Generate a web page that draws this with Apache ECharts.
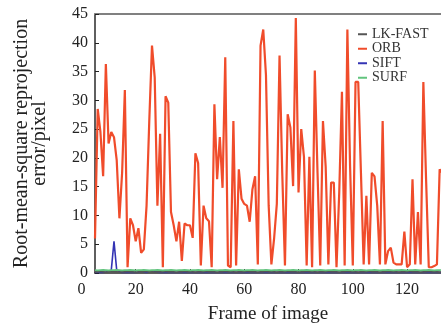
<!DOCTYPE html>
<html><head><meta charset="utf-8">
<script src="https://cdn.jsdelivr.net/npm/echarts@6/dist/echarts.min.js"></script>
<style>html,body{margin:0;padding:0;background:#fff}#c{width:441px;height:329px}</style>
</head><body><div id="c"></div>
<script>
// Frames 5..133
const firstFrame = 5;
const orb = [
  6, 28.5, 24.5, 16.8, 36.3, 22.5, 24.5, 23.6, 19.6, 9.5,
  17.5, 31.8, 1, 9.5, 8.3, 5.5, 7.8, 3.5, 4.1, 11.7,
  26.4, 39.5, 34, 11.7, 24.2, 1, 30.7, 29.6, 10.6, 8.3,
  5.5, 8.9, 2.1, 8.6, 8.3, 8.3, 6.1, 20.8, 19.1, 1.3,
  11.7, 9.5, 9, 1, 29.3, 16.3, 23.6, 14.8, 37.5, 1.3,
  1, 26.4, 1.3, 18, 12.9, 12, 11.7, 8.9, 14.5, 16.8,
  1.5, 39.5, 42.3, 34.4, 11.7, 1.5, 6, 12, 37.8, 17.4,
  1.3, 27.6, 25.3, 15.1, 44.3, 14, 25, 20.2, 1.3, 20.2,
  1, 35.2, 17.4, 1.3, 26.4, 18.5, 1.5, 15.7, 15.7, 1,
  14, 31.5, 1.3, 42.3, 18.5, 1.3, 33.2, 33.2, 17.4, 1.5,
  13.4, 1.5, 17.4, 16.8, 11.7, 1.5, 26.4, 1.5, 3.8, 4.4,
  1.8, 1.5, 1.5, 1.5, 7.2, 1, 1.5, 16.3, 1.5, 10.6,
  1.5, 33.2, 16.3, 1, 1, 1.2, 1.5, 18, 17.4
];
const lkfast = [
  0.2, 0.2, 0.25, 0.2, 0.15, 0.2, 0.25, 0.2, 0.2, 0.15,
  0.2, 0.2, 0.25, 0.2, 0.2, 0.15, 0.2, 0.2, 0.2, 0.25,
  0.2, 0.2, 0.15, 0.2, 0.2, 0.2, 0.25, 0.2, 0.2, 0.2,
  0.15, 0.2, 0.2, 0.25, 0.2, 0.2, 0.2, 0.15, 0.2, 0.2,
  0.2, 0.25, 0.2, 0.2, 0.2, 0.15, 0.2, 0.2, 0.25, 0.2,
  0.2, 0.2, 0.15, 0.2, 0.2, 0.2, 0.25, 0.2, 0.2, 0.2,
  0.15, 0.2, 0.2, 0.25, 0.2, 0.2, 0.2, 0.15, 0.2, 0.2,
  0.2, 0.25, 0.2, 0.2, 0.2, 0.15, 0.2, 0.2, 0.25, 0.2,
  0.2, 0.2, 0.15, 0.2, 0.2, 0.2, 0.25, 0.2, 0.2, 0.2,
  0.15, 0.2, 0.2, 0.25, 0.2, 0.2, 0.2, 0.15, 0.2, 0.2,
  0.2, 0.25, 0.2, 0.2, 0.2, 0.15, 0.2, 0.2, 0.25, 0.2,
  0.2, 0.2, 0.15, 0.2, 0.2, 0.2, 0.25, 0.2, 0.2, 0.2,
  0.15, 0.2, 0.2, 0.25, 0.2, 0.2, 0.2, 0.15, 0.2
];
const sift = [
  0.1, 0.1, 0.1, 0.1, 0.15, 0.3, 0.5, 5.5, 0.5, 0.2,
  0.1, 0.1, 0.1, 0.1, 0.1, 0.1, 0.15, 0.3, 0.2, 0.1,
  0.3, 0.4, 0.3, 0.15, 0.1, 0.1, 0.1, 0.1, 0.1, 0.1,
  0.1, 0.1, 0.1, 0.1, 0.1, 0.1, 0.1, 0.1, 0.1, 0.1,
  0.1, 0.1, 0.1, 0.1, 0.1, 0.1, 0.1, 0.1, 0.1, 0.1,
  0.1, 0.1, 0.1, 0.1, 0.1, 0.1, 0.1, 0.1, 0.1, 0.1,
  0.1, 0.1, 0.1, 0.1, 0.1, 0.1, 0.1, 0.1, 0.1, 0.1,
  0.1, 0.1, 0.1, 0.1, 0.1, 0.1, 0.1, 0.1, 0.1, 0.1,
  0.1, 0.1, 0.1, 0.1, 0.1, 0.1, 0.1, 0.1, 0.1, 0.1,
  0.1, 0.1, 0.1, 0.1, 0.1, 0.1, 0.1, 0.1, 0.1, 0.1,
  0.1, 0.1, 0.1, 0.1, 0.1, 0.1, 0.1, 0.1, 0.1, 0.1,
  0.1, 0.1, 0.1, 0.1, 0.1, 0.1, 0.1, 0.1, 0.1, 0.1,
  0.1, 0.1, 0.1, 0.1, 0.1, 0.1, 0.1, 0.1, 0.1
];
const surf = [
  0.5, 0.45, 0.5, 0.55, 0.5, 0.45, 0.5, 0.5, 0.55, 0.5,
  0.45, 0.5, 0.5, 0.55, 0.5, 0.45, 0.5, 0.5, 0.55, 0.5,
  0.45, 0.5, 0.5, 0.55, 0.5, 0.45, 0.5, 0.5, 0.55, 0.5,
  0.45, 0.5, 0.5, 0.55, 0.5, 0.45, 0.5, 0.5, 0.55, 0.5,
  0.45, 0.5, 0.5, 0.55, 0.5, 0.45, 0.5, 0.5, 0.55, 0.5,
  0.45, 0.5, 0.5, 0.55, 0.5, 0.45, 0.5, 0.5, 0.55, 0.5,
  0.45, 0.5, 0.5, 0.55, 0.5, 0.45, 0.5, 0.5, 0.55, 0.5,
  0.45, 0.5, 0.5, 0.55, 0.5, 0.45, 0.5, 0.5, 0.55, 0.5,
  0.45, 0.5, 0.5, 0.55, 0.5, 0.45, 0.5, 0.5, 0.55, 0.5,
  0.45, 0.5, 0.5, 0.55, 0.5, 0.45, 0.5, 0.5, 0.55, 0.5,
  0.45, 0.5, 0.5, 0.55, 0.5, 0.45, 0.5, 0.5, 0.55, 0.5,
  0.45, 0.5, 0.5, 0.55, 0.5, 0.45, 0.5, 0.5, 0.55, 0.5,
  0.45, 0.5, 0.5, 0.55, 0.5, 0.45, 0.5, 0.5, 0.55
];
const xTicks = [20, 40, 60, 80, 100, 120];
const xZeroLabel = 0;
const yTicks = [0, 5, 10, 15, 20, 25, 30, 35, 40, 45];
const seriesNames = ['LK-FAST', 'ORB', 'SIFT', 'SURF'];
const seriesColors = ['#555555', '#F04C2B', '#3434B4', '#62C47E'];
const seriesZ = [3, 4, 2, 5];
const xName = 'Frame of image';
const yName = 'Root-mean-square reprojection\nerror/pixel';

const FONT = "'Liberation Serif', 'Times New Roman', serif";
const pairs = arr => arr.map((v, i) => [firstFrame + i, v]);
const allData = [lkfast, orb, sift, surf];

const chart = echarts.init(document.getElementById('c'), null, {renderer: 'canvas'});
const option = {
  animation: false,
  backgroundColor: '#fff',
  grid: {left: 95, right: 0, top: 14, bottom: 50},
  legend: {
    orient: 'vertical', left: 353, top: 22,
    itemWidth: 9, itemHeight: 2, itemGap: 0,
    icon: 'rect',
    data: seriesNames,
    textStyle: {fontFamily: FONT, fontSize: 14, color: '#333', lineHeight: 14.5}
  },
  xAxis: [{
    type: 'value', min: firstFrame, max: 132.5,
    name: xName, nameLocation: 'middle', nameGap: 32,
    nameTextStyle: {fontFamily: FONT, fontSize: 19, color: '#222'},
    axisLine: {lineStyle: {color: '#2a2a2a', width: 1.5}},
    axisTick: {inside: true, length: 4, customValues: xTicks, lineStyle: {color: '#222'}},
    axisLabel: {customValues: xTicks, margin: 9, fontFamily: FONT, fontSize: 16, color: '#222'},
    splitLine: {show: false}
  }, {
    type: 'value', position: 'top', min: firstFrame, max: 132.5,
    axisLine: {lineStyle: {color: '#808080', width: 2}},
    axisTick: {show: false}, axisLabel: {show: false}, splitLine: {show: false}
  }],
  yAxis: {
    type: 'value', min: 0, max: 45, interval: 5,
    name: yName, nameLocation: 'middle', nameGap: 46, nameRotate: 90,
    nameTextStyle: {fontFamily: FONT, fontSize: 20, color: '#222', lineHeight: 18, align: 'center'},
    axisLine: {show: true, lineStyle: {color: '#2a2a2a', width: 1.5}},
    axisTick: {show: true, inside: true, length: 4, lineStyle: {color: '#222'}},
    axisLabel: {margin: 7, fontFamily: FONT, fontSize: 16, color: '#222',
      formatter: v => yTicks.indexOf(v) >= 0 ? String(v) : ''},
    splitLine: {show: false}
  },
  series: seriesNames.map((n, i) => ({
    name: n, type: 'line', xAxisIndex: 0, showSymbol: false, symbol: 'none',
    data: pairs(allData[i]),
    lineStyle: {color: seriesColors[i], width: n === 'ORB' ? 2.2 : 1.6},
    itemStyle: {color: seriesColors[i]},
    z: seriesZ[i]
  }))
};
chart.setOption(option);
const zx = chart.convertToPixel({xAxisIndex: 0}, xZeroLabel);
const zy = chart.convertToPixel({yAxisIndex: 0}, 0);
chart.setOption({
  graphic: [{
    type: 'text', x: zx, y: zy + 9, silent: true,
    style: {text: String(xZeroLabel), fontFamily: FONT, fontSize: 16, fill: '#222', align: 'center', verticalAlign: 'top'}
  }]
});
</script></body></html>
